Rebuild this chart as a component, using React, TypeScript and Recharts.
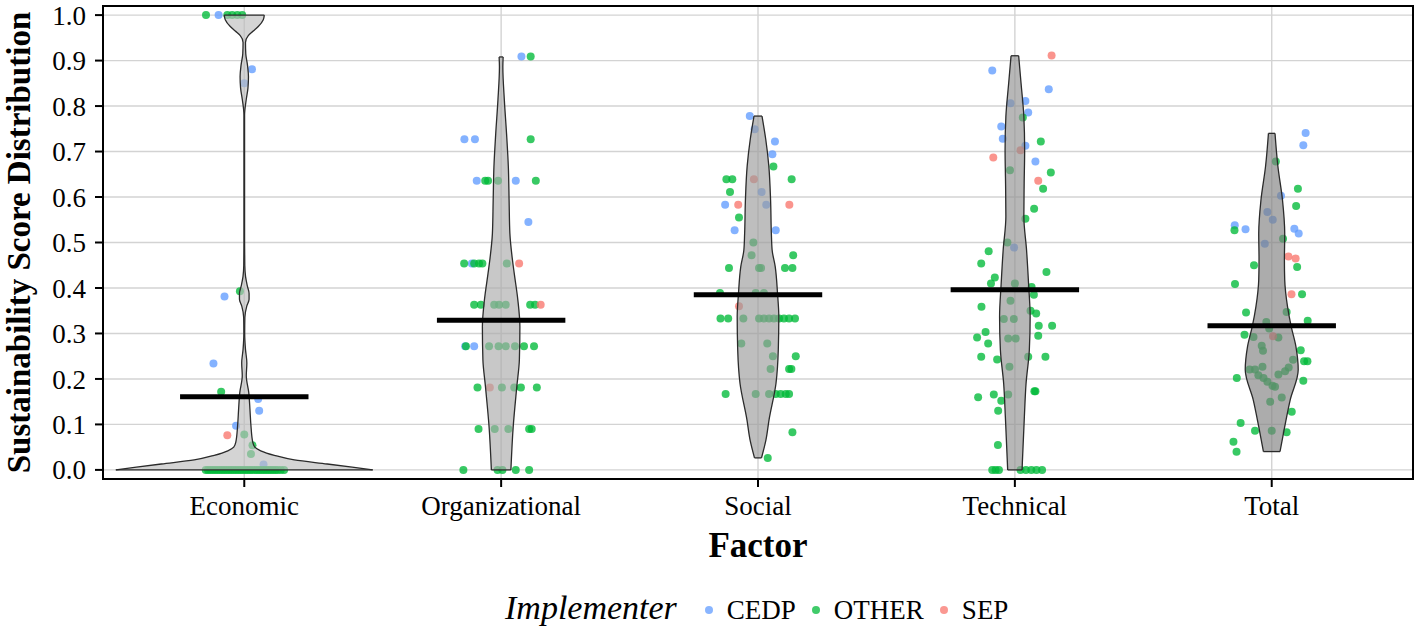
import React from "react";
import {
  ComposedChart,
  Scatter,
  Area,
  XAxis,
  YAxis,
  CartesianGrid,
  ReferenceLine,
  ReferenceArea,
} from "recharts";

const FONT = "'Liberation Serif', 'Times New Roman', serif";

const factors = ["Economic", "Organizational", "Social", "Technical", "Total"];
const yTicks = [0, 0.1, 0.2, 0.3, 0.4, 0.5, 0.6, 0.7, 0.8, 0.9, 1.0];
const means = [0.161, 0.329, 0.385, 0.396, 0.317];

const implementers = ["CEDP", "OTHER", "SEP"];
const implementerCodes = ["C", "O", "S"];
const implementerColors = ["#619CFF", "#00BA38", "#F8766D"];

// [jitter from category centre, score, implementer code]
type Pt = [number, number, string];

const economicPoints: Pt[] = [
  [-0.1, 1.0, "C"], [0.03, 0.881, "C"], [0.0, 0.85, "C"], [-0.077, 0.381, "C"], [-0.12, 0.234, "C"],
  [0.054, 0.156, "C"], [0.058, 0.13, "C"], [-0.032, 0.097, "C"], [0.075, 0.012, "C"],
  [-0.149, 1, "O"], [-0.066, 1, "O"], [-0.047, 1, "O"], [-0.027, 1, "O"], [-0.008, 1, "O"],
  [-0.017, 0.393, "O"], [-0.09, 0.172, "O"], [0, 0.078, "O"], [0.032, 0.054, "O"], [0.026, 0.035, "O"],
  [-0.15, 0, "O"], [-0.141, 0, "O"], [-0.132, 0, "O"], [-0.123, 0, "O"], [-0.114, 0, "O"], [-0.105, 0, "O"],
  [-0.096, 0, "O"], [-0.087, 0, "O"], [-0.078, 0, "O"], [-0.069, 0, "O"], [-0.06, 0, "O"], [-0.051, 0, "O"],
  [-0.042, 0, "O"], [-0.033, 0, "O"], [-0.024, 0, "O"], [-0.015, 0, "O"], [-0.006, 0, "O"], [0.004, 0, "O"],
  [0.013, 0, "O"], [0.022, 0, "O"], [0.031, 0, "O"], [0.04, 0, "O"], [0.049, 0, "O"], [0.058, 0, "O"],
  [0.067, 0, "O"], [0.076, 0, "O"], [0.085, 0, "O"], [0.094, 0, "O"], [0.103, 0, "O"], [0.112, 0, "O"],
  [0.121, 0, "O"], [0.13, 0, "O"], [0.142, 0, "O"], [0.155, 0, "O"],
  [-0.066, 0.076, "S"],
];

const organizationalPoints: Pt[] = [
  [0.079, 0.909, "C"], [0.115, 0.909, "O"],
  [-0.143, 0.727, "C"], [-0.102, 0.727, "C"], [0.115, 0.727, "O"],
  [-0.095, 0.636, "C"], [-0.062, 0.636, "O"], [-0.051, 0.636, "O"], [-0.012, 0.636, "O"], [0.057, 0.636, "C"], [0.135, 0.636, "O"],
  [0.106, 0.545, "C"],
  [-0.114, 0.454, "C"], [-0.144, 0.454, "O"], [-0.105, 0.454, "O"], [-0.086, 0.454, "O"], [-0.073, 0.454, "O"], [0.022, 0.454, "O"], [0.07, 0.454, "S"],
  [-0.105, 0.363, "O"], [-0.079, 0.363, "O"], [-0.027, 0.363, "O"], [-0.008, 0.363, "O"], [0.018, 0.363, "O"], [0.113, 0.363, "O"], [0.132, 0.363, "O"], [0.154, 0.363, "S"],
  [-0.105, 0.272, "C"], [-0.137, 0.272, "O"], [-0.14, 0.272, "C"], [-0.047, 0.272, "O"], [-0.01, 0.272, "O"], [0.018, 0.272, "O"], [0.054, 0.272, "O"], [0.089, 0.272, "O"], [0.128, 0.272, "O"],
  [-0.092, 0.181, "O"], [-0.044, 0.181, "S"], [0.003, 0.181, "O"], [0.051, 0.181, "O"], [0.077, 0.181, "O"], [0.139, 0.181, "O"],
  [-0.088, 0.09, "O"], [-0.025, 0.09, "O"], [0.028, 0.09, "O"], [0.109, 0.09, "O"], [0.119, 0.09, "O"],
  [-0.147, 0, "O"], [-0.014, 0, "O"], [0.005, 0, "O"], [0.057, 0, "O"], [0.109, 0, "O"],
];

const socialPoints: Pt[] = [
  [-0.032, 0.778, "C"], [-0.013, 0.749, "C"], [0.066, 0.722, "C"], [0.056, 0.694, "C"], [0.014, 0.611, "C"],
  [-0.128, 0.583, "C"], [0.032, 0.583, "C"], [-0.091, 0.527, "C"], [0.069, 0.527, "C"],
  [0.06, 0.667, "O"], [-0.123, 0.639, "O"], [-0.1, 0.639, "O"], [0.131, 0.639, "O"], [-0.109, 0.611, "O"],
  [-0.074, 0.555, "O"], [-0.018, 0.5, "O"], [-0.025, 0.472, "O"], [0.137, 0.472, "O"],
  [-0.113, 0.444, "O"], [0.004, 0.444, "O"], [0.012, 0.444, "O"], [0.105, 0.444, "O"], [0.134, 0.444, "O"],
  [-0.148, 0.389, "O"], [-0.009, 0.389, "O"], [0.023, 0.389, "O"],
  [-0.146, 0.333, "O"], [-0.116, 0.333, "O"], [-0.057, 0.333, "O"], [0.004, 0.333, "O"], [0.023, 0.333, "O"],
  [0.043, 0.333, "O"], [0.062, 0.333, "O"], [0.082, 0.333, "O"], [0.101, 0.333, "O"], [0.121, 0.333, "O"], [0.144, 0.333, "O"],
  [-0.065, 0.278, "O"], [0.036, 0.278, "O"], [0.058, 0.25, "O"], [0.147, 0.25, "O"],
  [0.049, 0.222, "O"], [0.121, 0.222, "O"], [0.13, 0.222, "O"],
  [-0.126, 0.167, "O"], [-0.009, 0.167, "O"], [0.043, 0.167, "O"], [0.069, 0.167, "O"], [0.088, 0.167, "O"], [0.108, 0.167, "O"], [0.121, 0.167, "O"],
  [0.134, 0.083, "O"], [0.038, 0.026, "O"],
  [-0.016, 0.639, "S"], [-0.077, 0.583, "S"], [0.122, 0.583, "S"], [-0.074, 0.36, "S"],
];

const technicalPoints: Pt[] = [
  [-0.088, 0.878, "C"], [0.132, 0.837, "C"], [-0.017, 0.806, "C"], [0.041, 0.811, "C"], [0.052, 0.786, "C"],
  [-0.053, 0.755, "C"], [-0.047, 0.728, "C"], [0.041, 0.713, "C"], [0.08, 0.678, "C"], [-0.003, 0.489, "C"],
  [0.031, 0.775, "O"], [0.101, 0.722, "O"], [-0.019, 0.659, "O"], [0.14, 0.654, "O"], [0.11, 0.618, "O"],
  [0.075, 0.574, "O"], [0.041, 0.552, "O"], [-0.029, 0.5, "O"], [-0.102, 0.481, "O"], [-0.131, 0.454, "O"],
  [0.123, 0.435, "O"], [-0.078, 0.423, "O"], [-0.093, 0.41, "O"], [0, 0.41, "O"], [0.065, 0.402, "O"],
  [0.074, 0.385, "O"], [-0.017, 0.372, "O"], [-0.13, 0.359, "O"], [0.061, 0.35, "O"], [0.083, 0.344, "O"],
  [-0.043, 0.332, "O"], [-0.004, 0.332, "O"], [0.093, 0.317, "O"], [0.145, 0.317, "O"], [-0.114, 0.303, "O"],
  [-0.147, 0.291, "O"], [0.091, 0.295, "O"], [-0.026, 0.289, "O"], [0.003, 0.289, "O"], [-0.104, 0.278, "O"],
  [-0.131, 0.249, "O"], [-0.069, 0.243, "O"], [0.052, 0.249, "O"], [0.119, 0.249, "O"], [-0.021, 0.227, "O"],
  [-0.143, 0.16, "O"], [-0.082, 0.166, "O"], [-0.026, 0.166, "O"], [-0.053, 0.152, "O"], [0.076, 0.173, "O"],
  [0.08, 0.173, "O"], [-0.065, 0.13, "O"], [-0.066, 0.055, "O"],
  [-0.088, 0, "O"], [-0.075, 0, "O"], [-0.062, 0, "O"], [0.022, 0, "O"], [0.043, 0, "O"], [0.064, 0, "O"],
  [0.084, 0, "O"], [0.106, 0, "O"],
  [0.143, 0.911, "S"], [0.022, 0.703, "S"], [-0.084, 0.687, "S"], [0.091, 0.636, "S"],
];

const totalPoints: Pt[] = [
  [0.132, 0.741, "C"], [0.123, 0.714, "C"], [0.036, 0.603, "C"], [-0.017, 0.567, "C"], [0.004, 0.55, "C"],
  [-0.144, 0.538, "C"], [-0.102, 0.529, "C"], [0.088, 0.53, "C"], [0.105, 0.52, "C"], [-0.027, 0.497, "C"],
  [0.016, 0.678, "O"], [0.102, 0.618, "O"], [0.095, 0.58, "O"], [-0.145, 0.527, "O"], [0.044, 0.508, "O"],
  [0.099, 0.446, "O"], [-0.069, 0.45, "O"], [-0.143, 0.409, "O"], [0.118, 0.386, "O"], [-0.1, 0.346, "O"],
  [0.058, 0.347, "O"], [0.14, 0.328, "O"], [-0.021, 0.325, "O"], [-0.01, 0.311, "O"], [-0.106, 0.297, "O"],
  [-0.071, 0.292, "O"], [0.026, 0.291, "O"], [-0.039, 0.273, "O"], [-0.034, 0.262, "O"], [0.113, 0.263, "O"],
  [0.126, 0.239, "O"], [0.139, 0.239, "O"], [0.083, 0.242, "O"], [0.066, 0.225, "O"], [-0.086, 0.221, "O"],
  [-0.065, 0.221, "O"], [-0.036, 0.227, "O"], [-0.052, 0.208, "O"], [0.052, 0.217, "O"], [0.026, 0.21, "O"],
  [-0.136, 0.202, "O"], [0.123, 0.196, "O"], [-0.032, 0.202, "O"], [-0.017, 0.194, "O"], [0.003, 0.185, "O"],
  [0.013, 0.183, "O"], [0.039, 0.159, "O"], [-0.006, 0.15, "O"], [0.078, 0.128, "O"], [-0.121, 0.103, "O"],
  [-0.065, 0.086, "O"], [0, 0.086, "O"], [0.058, 0.083, "O"], [-0.149, 0.062, "O"], [-0.137, 0.04, "O"],
  [0.065, 0.469, "S"], [0.093, 0.465, "S"], [0.077, 0.386, "S"], [0.005, 0.294, "S"],
];

const pointsByFactor = [economicPoints, organizationalPoints, socialPoints, technicalPoints, totalPoints];

// violin outlines: score and half width (category units)
const economicViolinScore = [0, 0.006, 0.013, 0.022, 0.032, 0.042, 0.05, 0.061, 0.097, 0.134, 0.17, 0.207, 0.235, 0.265, 0.3, 0.335, 0.36, 0.375, 0.388, 0.405, 0.425, 0.45, 0.5, 0.78, 0.815, 0.84, 0.865, 0.89, 0.915, 0.94, 0.955, 0.965, 0.975, 0.99, 1.0];
const economicViolinHalf = [0.5, 0.42, 0.323, 0.195, 0.117, 0.064, 0.041, 0.033, 0.026, 0.022, 0.0175, 0.0078, 0.01, 0.0047, 0.0016, 0.0023, 0.0097, 0.0187, 0.0187, 0.0117, 0.005, 0.002, 0.0012, 0.0012, 0.0078, 0.0144, 0.0163, 0.0125, 0.0058, 0.0047, 0.0156, 0.035, 0.0545, 0.074, 0.078];
const organizationalViolinScore = [0, 0.095, 0.183, 0.242, 0.315, 0.374, 0.432, 0.462, 0.52, 0.593, 0.667, 0.74, 0.813, 0.886, 0.908];
const organizationalViolinHalf = [0.038, 0.047, 0.061, 0.071, 0.073, 0.065, 0.051, 0.044, 0.034, 0.031, 0.028, 0.021, 0.0125, 0.0066, 0.0078];
const socialViolinScore = [0.0264, 0.066, 0.11, 0.19, 0.264, 0.337, 0.388, 0.447, 0.4835, 0.52, 0.593, 0.669, 0.7275, 0.778];
const socialViolinHalf = [0.0136, 0.031, 0.043, 0.07, 0.079, 0.081, 0.076, 0.067, 0.055, 0.052, 0.049, 0.042, 0.03, 0.0156];
const technicalViolinScore = [0, 0.117, 0.19, 0.264, 0.337, 0.41, 0.4835, 0.557, 0.63, 0.703, 0.777, 0.85, 0.9106];
const technicalViolinHalf = [0.028, 0.037, 0.0436, 0.0564, 0.0595, 0.0533, 0.0455, 0.035, 0.0362, 0.0381, 0.035, 0.0241, 0.0148];
const totalViolinScore = [0.0403, 0.095, 0.154, 0.22, 0.271, 0.315, 0.359, 0.4176, 0.4615, 0.52, 0.593, 0.667, 0.74];
const totalViolinHalf = [0.0323, 0.0506, 0.072, 0.1031, 0.0942, 0.0759, 0.0615, 0.0506, 0.0494, 0.0506, 0.042, 0.0241, 0.0128];

const violinScores = [economicViolinScore, organizationalViolinScore, socialViolinScore, technicalViolinScore, totalViolinScore];
const violinHalves = [economicViolinHalf, organizationalViolinHalf, socialViolinHalf, technicalViolinHalf, totalViolinHalf];
const violinFills = ["#bdbdbd", "#aaaaaa", "#9b9b9b", "#909090", "#7f7f7f"];

const scatterData = implementerCodes.map((code) =>
  pointsByFactor.flatMap((pts, i) =>
    pts.filter((p) => p[2] === code).map((p) => ({ x: i + 1 + p[0], score: p[1] }))
  )
);

const violinData = violinScores.map((scores, i) =>
  scores.map((s, j) => ({ score: s, band: [i + 1 - violinHalves[i][j], i + 1 + violinHalves[i][j]] }))
);

const Dot = (color: string) => (props: any) =>
  <circle cx={props.cx} cy={props.cy} r={4} fill={color} fillOpacity={0.78} />;

export default function App() {
  return (
    <div style={{ position: "absolute", left: 0, top: 0, width: 1415, height: 631, background: "#fff" }}>
      <ComposedChart width={1415} height={631} layout="vertical" margin={{ top: 6, right: 2, bottom: 0, left: 0 }}>
        <CartesianGrid stroke="#d3d3d3" strokeWidth={1.4} />
        <XAxis
          type="number"
          dataKey="x"
          domain={[0.45, 5.55]}
          ticks={[1, 2, 3, 4, 5]}
          interval={0}
          allowDataOverflow
          tickFormatter={(v) => factors[v - 1]}
          height={152}
          tickSize={8}
          tickMargin={9}
          axisLine={{ stroke: "#000", strokeWidth: 2 }}
          tickLine={{ stroke: "#000", strokeWidth: 2 }}
          tick={{ fill: "#000", fontSize: 27, fontFamily: FONT }}
          label={{
            value: "Factor",
            position: "insideBottom",
            offset: 74,
            style: { fontFamily: FONT, fontSize: 35, fontWeight: "bold", fill: "#000" },
          }}
        />
        <YAxis
          type="number"
          dataKey="score"
          domain={[-0.02, 1.02]}
          ticks={yTicks}
          interval={0}
          allowDataOverflow
          reversed
          width={103}
          tickFormatter={(v) => v.toFixed(1)}
          tickSize={8}
          tickMargin={9}
          axisLine={{ stroke: "#000", strokeWidth: 2 }}
          tickLine={{ stroke: "#000", strokeWidth: 2 }}
          tick={{ fill: "#000", fontSize: 27, fontFamily: FONT }}
          label={{
            value: "Sustainability Score Distribution",
            angle: -90,
            position: "insideLeft",
            offset: 18,
            style: { textAnchor: "middle", fontFamily: FONT, fontSize: 33, fontWeight: "bold", fill: "#000" },
          }}
        />
        {implementers.map((name, k) => (
          <Scatter
            key={name}
            name={name}
            data={scatterData[k]}
            shape={Dot(implementerColors[k])}
            isAnimationActive={false}
            zIndex={50}
          />
        ))}
        {violinData.map((d, i) => (
          <Area
            key={factors[i]}
            data={d}
            dataKey="band"
            type="monotone"
            stroke="#2b2b2b"
            strokeWidth={1.3}
            fill={violinFills[i]}
            fillOpacity={0.65}
            dot={false}
            activeDot={false}
            isAnimationActive={false}
            zIndex={100}
          />
        ))}
        {violinData.map((d, i) =>
          [d[0], d[d.length - 1]].map((row, e) => (
            <ReferenceLine
              key={`cap-${i}-${e}`}
              segment={[
                { x: row.band[0], y: row.score },
                { x: row.band[1], y: row.score },
              ]}
              stroke="#2b2b2b"
              strokeWidth={1.3}
              ifOverflow="visible"
              zIndex={110}
            />
          ))
        )}
        {means.map((m, i) => (
          <ReferenceLine
            key={`mean-${i}`}
            segment={[
              { x: i + 1 - 0.25, y: m },
              { x: i + 1 + 0.25, y: m },
            ]}
            stroke="#000"
            strokeWidth={5}
            zIndex={700}
          />
        ))}
        <ReferenceArea
          x1={0.45}
          x2={5.55}
          y1={-0.02}
          y2={1.02}
          fill="none"
          stroke="#000"
          strokeWidth={2}
          ifOverflow="visible"
          zIndex={800}
        />
      </ComposedChart>
      <div
        style={{
          position: "absolute",
          left: 505,
          top: 591,
          display: "flex",
          alignItems: "baseline",
          fontFamily: FONT,
          lineHeight: 1,
          whiteSpace: "nowrap",
          color: "#000",
        }}
      >
        <span style={{ fontStyle: "italic", fontSize: 34 }}>Implementer</span>
        {implementers.map((name, k) => (
          <React.Fragment key={name}>
            <span
              style={{
                display: "inline-block",
                width: 8,
                height: 8,
                borderRadius: "50%",
                background: implementerColors[k],
                opacity: 0.75,
                position: "relative",
                top: -5,
                marginLeft: k === 0 ? 28 : 16,
                marginRight: 14,
              }}
            />
            <span style={{ fontSize: 27 }}>{name}</span>
          </React.Fragment>
        ))}
      </div>
    </div>
  );
}
